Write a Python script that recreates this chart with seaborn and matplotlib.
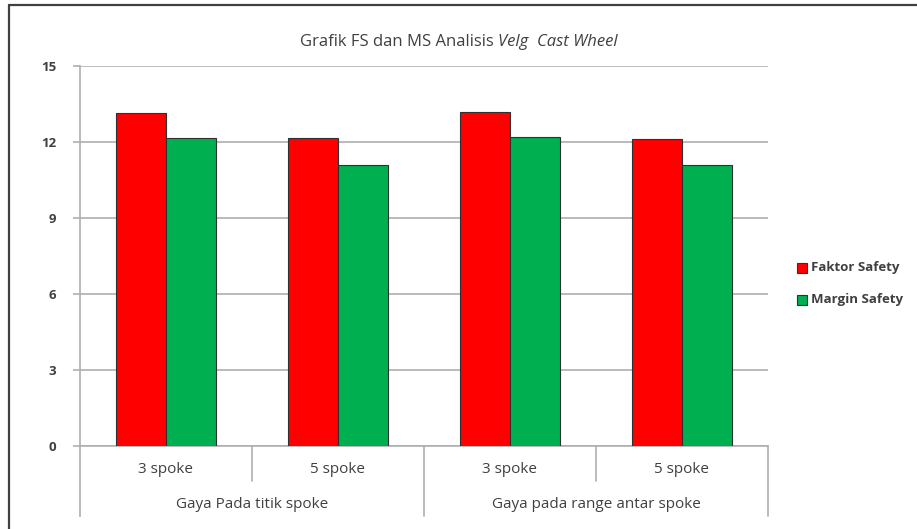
import matplotlib
matplotlib.use("Agg")
import matplotlib.pyplot as plt
import matplotlib.transforms as mtransforms
import seaborn as sns
import pandas as pd

# Chart data
groups = ["Gaya Pada titik spoke", "Gaya pada range antar spoke"]
spokes = ["3 spoke", "5 spoke", "3 spoke", "5 spoke"]
faktor_safety = [13.15, 12.15, 13.2, 12.1]
margin_safety = [12.15, 11.1, 12.2, 11.1]
series = ["Faktor Safety", "Margin Safety"]
colors = ["#FF0000", "#00B050"]
y_ticks = [0, 3, 6, 9, 12, 15]

sns.set_theme(style="white")
plt.rcParams["font.family"] = ["Open Sans", "DejaVu Sans"]
text_color = "#404040"
grid_color = "#AFAFAF"

rows = []
for i, sp in enumerate(spokes):
    key = f"{i}:{sp}"
    rows.append({"cat": key, "series": series[0], "value": faktor_safety[i]})
    rows.append({"cat": key, "series": series[1], "value": margin_safety[i]})
df = pd.DataFrame(rows)

W, H = 917, 529
fig = plt.figure(figsize=(W / 100, H / 100), dpi=100)
ax = fig.add_axes([80 / W, (H - 446) / H, (768 - 80) / W, (446 - 66) / H])

sns.barplot(data=df, x="cat", y="value", hue="series", palette=colors,
            width=0.58, edgecolor="#303030", linewidth=0.8, ax=ax,
            legend=False, zorder=3, saturation=1)

ax.set_xlim(-0.5, 3.5)
ax.set_ylim(0, 15)
ax.set_yticks(y_ticks)
ax.set_yticklabels([str(t) for t in y_ticks], color=text_color, fontsize=9.5,
                   fontweight="bold")
ax.yaxis.grid(True, color=grid_color, linewidth=1.2, zorder=0)
ax.set_axisbelow(True)
ax.tick_params(axis="y", length=5, width=1.2, color=grid_color, pad=12, left=True)
ax.set_xticks([])
ax.set_xlabel("")
ax.set_ylabel("")
for s in ["top", "right"]:
    ax.spines[s].set_visible(False)
ax.spines["left"].set_color(grid_color)
ax.spines["left"].set_linewidth(1.2)
ax.spines["left"].set_bounds(-2.75, 15)
ax.spines["bottom"].set_color(grid_color)
ax.spines["bottom"].set_linewidth(1.2)

# Two-level category axis
trans = mtransforms.blended_transform_factory(ax.transData, ax.transAxes)
for xd in [0.5, 2.5]:
    ax.plot([xd, xd], [0, -0.092], transform=trans, color=grid_color,
            lw=1.2, clip_on=False)
for xd in [1.5, 3.5]:
    ax.plot([xd, xd], [0, -0.184], transform=trans, color=grid_color,
            lw=1.2, clip_on=False)
for i, sp in enumerate(spokes):
    ax.text(i, -0.063, sp, transform=trans, ha="center", va="center",
            fontsize=11, color=text_color)
for g, name in enumerate(groups):
    ax.text(2 * g + 0.5, -0.155, name, transform=trans, ha="center",
            va="center", fontsize=11, color=text_color)

# Legend
for k, (name, c) in enumerate(zip(series, colors)):
    ypx = 268 + 32 * k
    fig.patches.append(plt.Rectangle((797 / W, (H - ypx - 5) / H), 10 / W, 10 / H,
                                     transform=fig.transFigure, facecolor=c,
                                     edgecolor="#303030", linewidth=0.8))
    fig.text(811 / W, (H - ypx) / H, name, ha="left", va="center",
             fontsize=9.5, color=text_color, fontweight="bold")

# Title: regular part followed by italic part
t1 = fig.text(300 / W, (H - 42) / H, "Grafik FS dan MS Analisis ", ha="left",
              va="center", fontsize=12, color=text_color)
fig.canvas.draw()
bb = t1.get_window_extent()
fig.text(bb.x1 / W, (H - 42) / H, "Velg  Cast Wheel", ha="left", va="center",
         fontsize=12, color=text_color, style="italic")

# Outer frame lines
fig.add_artist(plt.Line2D([9 / W, 9 / W], [0, (H - 5) / H], color="#404040", lw=1.6))
fig.add_artist(plt.Line2D([9 / W, 1], [(H - 5) / H, (H - 5) / H], color="#404040", lw=1.6))

fig.savefig("out.png", dpi=100)
